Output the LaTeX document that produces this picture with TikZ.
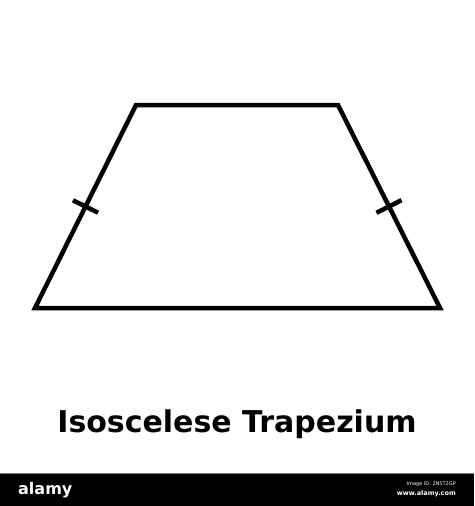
\documentclass[tikz,border=0pt]{standalone}
\usepackage{fontspec}
\setmainfont{DejaVu Sans}
\usetikzlibrary{calc}

\begin{document}
\begin{tikzpicture}[x=1pt, y=-1pt,
side_line/.style={draw=black, line width=4.5pt, line join=miter},
tick_mark/.style={draw=black, line width=4.5pt},
title_text/.style={font=\fontsize{30}{36}\selectfont\bfseries, text=black},
bar_text/.style={text=white, inner sep=0pt}
]

\useasboundingbox (0,0) rectangle (474,506);

% corners of the trapezium
\coordinate (bottom_left) at (35,308);
\coordinate (top_left) at (136,105);
\coordinate (top_right) at (338,105);
\coordinate (bottom_right) at (440,308);

\draw[side_line] (bottom_left) -- (top_left) -- (top_right) -- (bottom_right) -- cycle;

% equal side marks
\coordinate (left_mid) at ($(bottom_left)!0.5!(top_left)$);
\coordinate (right_mid) at ($(bottom_right)!0.5!(top_right)$);
\draw[tick_mark] ($(left_mid)!14pt!90:(top_left)$) -- ($(left_mid)!14pt!-90:(top_left)$);
\draw[tick_mark] ($(right_mid)!14pt!90:(top_right)$) -- ($(right_mid)!14pt!-90:(top_right)$);

\node[title_text](title) at (237,424) {Isoscelese Trapezium};

% watermark bar
\fill[black] (0,474) rectangle (474,506);
\draw[gray, line width=1pt] (0,473.5) -- (474,473.5);
\node[bar_text, anchor=west, font=\fontsize{16}{16}\selectfont\bfseries](alamy) at (18,490) {alamy};
\node[bar_text, anchor=east, font=\fontsize{5}{5}\selectfont](image_id) at (456,484) {Image ID: 2N5T2GP};
\node[bar_text, anchor=east, font=\fontsize{6.5}{6.5}\selectfont\bfseries](site) at (456,494) {www.alamy.com};
\end{tikzpicture}
\end{document}
